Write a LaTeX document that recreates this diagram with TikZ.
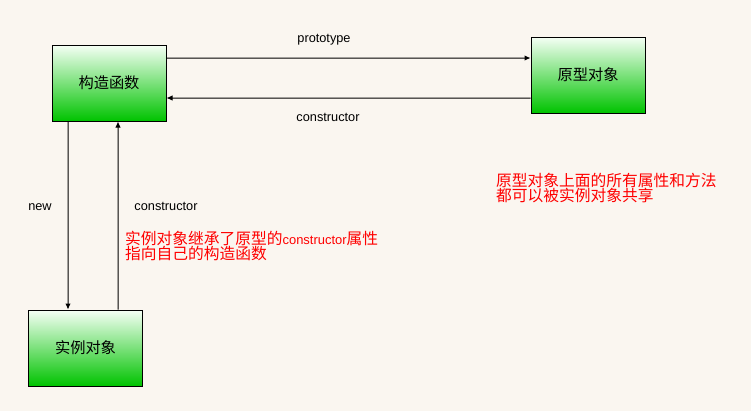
\documentclass[tikz,border=0pt]{standalone}
\usepackage{fontspec}
\setmainfont{Liberation Sans}
\newfontfamily\cjk{Noto Sans CJK SC}
\usetikzlibrary{arrows.meta}
\definecolor{bg}{RGB}{250,246,240}
\definecolor{gbot}{RGB}{0,195,0}
\definecolor{gtop}{RGB}{245,255,245}
\definecolor{note}{RGB}{255,0,0}
\begin{document}
\begin{tikzpicture}[x=1bp,y=-1bp,
  box/.style={draw=black,line width=1bp,minimum width=114bp,minimum height=76bp,
    top color=gtop,bottom color=gbot,inner sep=0pt,font=\cjk\fontsize{15.3}{18}\selectfont},
  conn/.style={line width=1bp,-{Latex[length=6bp,width=5.5bp]}},
  lbl/.style={inner sep=0pt,font=\fontsize{12.8}{15}\selectfont},
  notetxt/.style={inner sep=0pt,anchor=west,text=note,font=\cjk\fontsize{15.8}{18}\selectfont}]
\fill[bg] (0,0) rectangle (751,411);
\useasboundingbox (0,0) rectangle (751,411);
\node[box] (ctor) at (109,83) {构造函数};
\node[box] (proto) at (588,75) {原型对象};
\node[box,minimum width=113bp] (inst) at (85.5,348) {实例对象};
\draw[conn] ([yshift=25bp]ctor.east) -- ([yshift=17bp]proto.west);
\draw[conn] ([yshift=-23bp]proto.west) -- ([yshift=-15bp]ctor.east);
\draw[conn] ([xshift=-41bp]ctor.south) -- ([xshift=-17.5bp]inst.north);
\draw[conn] ([xshift=32.5bp]inst.north) -- ([xshift=9bp]ctor.south);
\node[lbl] (lp) at (324,40) {prototype};
\node[lbl] (lc1) at (328,117) {constructor};
\node[lbl] (ln) at (40,207) {new};
\node[lbl] (lc2) at (166,206) {constructor};
\node[notetxt] (n1) at (125,238) {实例对象继承了原型的{\fontspec{Liberation Sans}\fontsize{13}{15}\selectfont constructor}属性};
\node[notetxt] (n2) at (125,254) {指向自己的构造函数};
\node[notetxt] (n3) at (496,180) {原型对象上面的所有属性和方法};
\node[notetxt] (n4) at (496,196) {都可以被实例对象共享};
\end{tikzpicture}
\end{document}
